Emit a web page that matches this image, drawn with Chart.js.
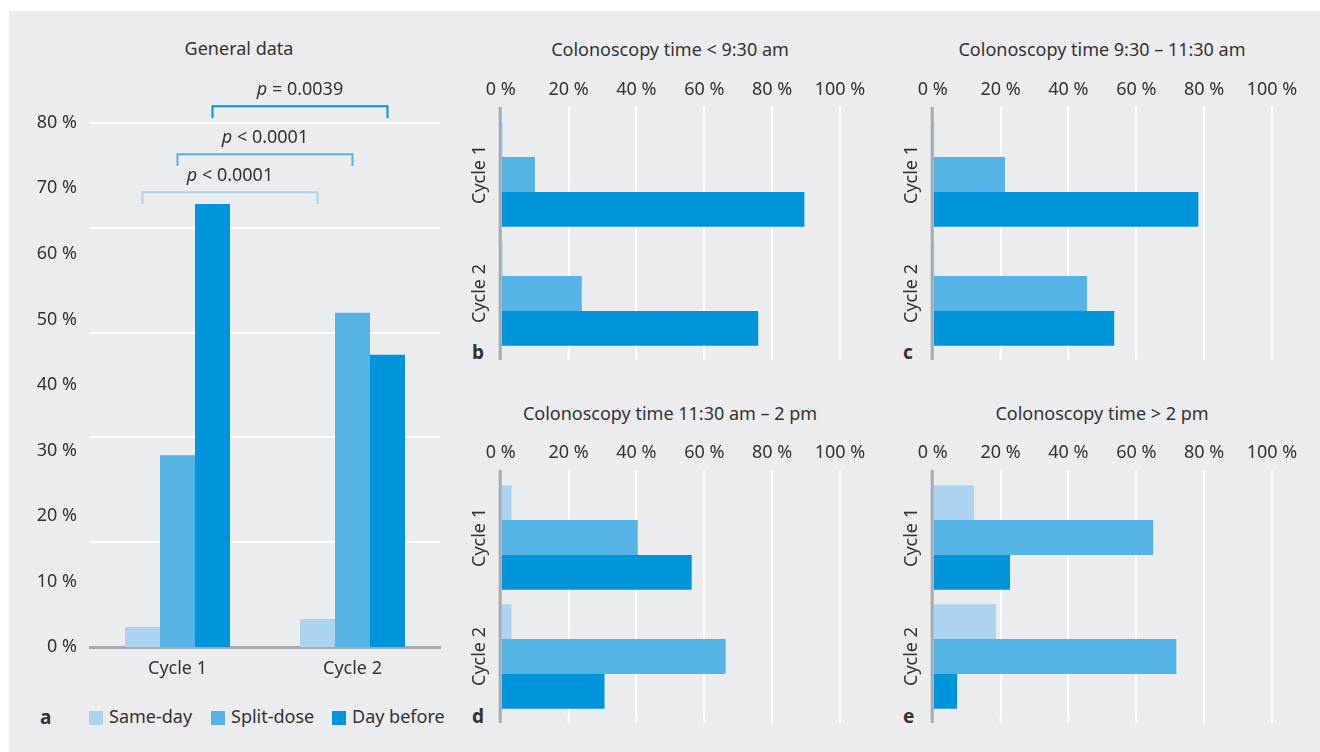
<!DOCTYPE html>
<html>
<head>
<meta charset="utf-8">
<script src="https://cdn.jsdelivr.net/npm/chart.js@4.4.1/dist/chart.umd.min.js"></script>
<style>
  body { margin: 0; background: #fff; }
  #page { position: relative; width: 1320px; height: 752px; overflow: hidden; font-family: "Noto Sans", sans-serif; color: #333; }
  #panel { position: absolute; left: 9px; top: 11px; right: 0; bottom: 0; background: #ebeced; }
  .box { position: absolute; }
  .title { position: absolute; font-size: 18px; white-space: nowrap; transform: translate(-50%, -50%); }
  .letter { position: absolute; font-size: 19px; font-weight: bold; transform: translateY(-50%); }
  .leg { position: absolute; top: 716px; transform: translateY(-50%); font-size: 18px; white-space: nowrap; }
  .leg i { display: inline-block; width: 14px; height: 14px; vertical-align: -2px; margin-right: 6px; }
</style>
</head>
<body>
<div id="page">
  <div id="panel"></div>

  <div class="title" style="left:239px; top:48px">General data</div>
  <div class="title" style="left:670px; top:49px">Colonoscopy time &lt; 9:30 am</div>
  <div class="title" style="left:1102px; top:49px">Colonoscopy time 9:30 – 11:30 am</div>
  <div class="title" style="left:670px; top:413px">Colonoscopy time 11:30 am – 2 pm</div>
  <div class="title" style="left:1102px; top:413px">Colonoscopy time &gt; 2 pm</div>

  <div class="letter" style="left:40px; top:717px">a</div>
  <div class="letter" style="left:472px; top:352px">b</div>
  <div class="letter" style="left:903px; top:352px">c</div>
  <div class="letter" style="left:472px; top:716px">d</div>
  <div class="letter" style="left:903px; top:716px">e</div>

  <div id="legend"></div>

  <div class="box" style="left:0; top:60px; width:460px; height:630px"><canvas id="chartA"></canvas></div>
  <div class="box" style="left:460px; top:60px; width:420px; height:315px"><canvas id="chartB"></canvas></div>
  <div class="box" style="left:892px; top:60px; width:420px; height:315px"><canvas id="chartC"></canvas></div>
  <div class="box" style="left:460px; top:423px; width:420px; height:315px"><canvas id="chartD"></canvas></div>
  <div class="box" style="left:892px; top:423px; width:420px; height:315px"><canvas id="chartE"></canvas></div>
</div>

<script>
// values, in percent
const cycles = ["Cycle 1", "Cycle 2"];
const seriesNames = ["Same-day", "Split-dose", "Day before"];
const seriesColors = ["#acd4f1", "#55b3e5", "#0095da"];

// a: general data
const generalSameDay = [3.1, 4.3];
const generalSplitDose = [29.3, 51.0];
const generalDayBefore = [67.6, 44.6];

// b: < 9:30 am
const earlySameDay = [0.6, 0.6];
const earlySplitDose = [10.1, 23.9];
const earlyDayBefore = [89.5, 75.9];

// c: 9:30 - 11:30 am
const morningSameDay = [0.5, 0.5];
const morningSplitDose = [21.3, 45.5];
const morningDayBefore = [78.3, 53.5];

// d: 11:30 am - 2 pm
const noonSameDay = [3.2, 3.2];
const noonSplitDose = [40.4, 66.3];
const noonDayBefore = [56.3, 30.6];

// e: > 2 pm
const lateSameDay = [12.2, 18.7];
const lateSplitDose = [65.0, 71.8];
const lateDayBefore = [22.8, 7.2];

// significance brackets in panel a: same-day, split-dose, day-before
const pValueLabels = [["p", " < 0.0001"], ["p", " < 0.0001"], ["p", " = 0.0039"]];

const FONT = "Noto Sans";
const TEXT = "#333";
const AXIS_GREY = "#a7a9ac";

Chart.defaults.font.family = FONT;
Chart.defaults.font.size = 18;
Chart.defaults.color = TEXT;
Chart.defaults.animation = false;

// legend
const legend = document.getElementById("legend");
[89, 211, 332].forEach((left, i) => {
  const d = document.createElement("div");
  d.className = "leg";
  d.style.left = left + "px";
  d.innerHTML = '<i style="background:' + seriesColors[i] + '"></i>' + seriesNames[i];
  legend.appendChild(d);
});

function makeDatasets(a, b, c) {
  return [a, b, c].map((vals, i) => ({
    label: seriesNames[i],
    data: vals,
    backgroundColor: seriesColors[i],
    borderWidth: 0,
    categoryPercentage: 0.6,
    barPercentage: 1.0
  }));
}

// brackets with p values above the bars of panel a
const pBrackets = {
  id: "pBrackets",
  afterDraw(chart, args, opts) {
    const { ctx } = chart;
    const y = chart.scales.y;
    ctx.save();
    opts.levels.forEach((level, i) => {
      const meta = chart.getDatasetMeta(i);
      const x1 = meta.data[0].x, x2 = meta.data[1].x;
      const top = y.getPixelForValue(level);
      const leg = y.getPixelForValue(level - 1.8);
      ctx.strokeStyle = seriesColors[i];
      ctx.lineWidth = 2;
      ctx.beginPath();
      ctx.moveTo(x1, leg);
      ctx.lineTo(x1, top);
      ctx.lineTo(x2, top);
      ctx.lineTo(x2, leg);
      ctx.stroke();

      const [p, rest] = pValueLabels[i];
      ctx.fillStyle = TEXT;
      ctx.textBaseline = "middle";
      ctx.font = "italic 18px '" + FONT + "'";
      const wp = ctx.measureText(p).width;
      ctx.font = "18px '" + FONT + "'";
      const wr = ctx.measureText(rest).width;
      const start = (x1 + x2) / 2 - (wp + wr) / 2;
      const ty = top - 16;
      ctx.font = "italic 18px '" + FONT + "'";
      ctx.textAlign = "left";
      ctx.fillText(p, start, ty);
      ctx.font = "18px '" + FONT + "'";
      ctx.fillText(rest, start + wp, ty);
    });
    ctx.restore();
  }
};

new Chart(document.getElementById("chartA"), {
  type: "bar",
  data: { labels: cycles, datasets: makeDatasets(generalSameDay, generalSplitDose, generalDayBefore) },
  plugins: [pBrackets],
  options: {
    responsive: true,
    maintainAspectRatio: false,
    layout: { padding: { top: 62.7, right: 20, left: 0, bottom: 0 } },
    plugins: {
      legend: { display: false },
      tooltip: { enabled: false },
      pBrackets: { levels: [69.4, 75.2, 82.5] }
    },
    scales: {
      x: {
        z: 1,
        grid: { display: false, drawTicks: false },
        border: { display: true, color: AXIS_GREY, width: 3 },
        ticks: { padding: 11 },
        afterFit: s => { s.height = 42.7; }
      },
      y: {
        min: 0, max: 80,
        grid: { display: false, drawTicks: false },
        border: { display: false },
        ticks: { stepSize: 10, padding: 13, callback: v => v + " %" },
        afterFit: s => { s.width = 90; }
      },
      grid16: {
        axis: "y",
        position: "right",
        min: 0, max: 80,
        grid: { color: c => c.tick.value === 0 ? "rgba(0,0,0,0)" : "#ffffff", lineWidth: 2, drawTicks: false },
        border: { display: false },
        ticks: { display: false, stepSize: 16 },
        afterFit: s => { s.width = 0; }
      }
    }
  }
});

// horizontal panels: rotated cycle labels, grid running past the plot, zero line on top
const sidePanel = {
  id: "sidePanel",
  beforeDatasetsDraw(chart) {
    const { ctx, chartArea } = chart;
    const x = chart.scales.x;
    ctx.save();
    ctx.strokeStyle = "#ffffff";
    ctx.lineWidth = 2;
    x.ticks.forEach((t, i) => {
      if (t.value === 0) return;
      const px = x.getPixelForTick(i);
      ctx.beginPath();
      ctx.moveTo(px, chartArea.bottom);
      ctx.lineTo(px, chartArea.bottom + 7);
      ctx.stroke();
    });
    ctx.restore();
  },
  afterDatasetsDraw(chart) {
    const { ctx, chartArea } = chart;
    const x = chart.scales.x, y = chart.scales.y;
    ctx.save();
    const x0 = x.getPixelForValue(0) - 0.5;
    ctx.strokeStyle = AXIS_GREY;
    ctx.lineWidth = 3;
    ctx.beginPath();
    ctx.moveTo(x0, chartArea.top - 8);
    ctx.lineTo(x0, chartArea.bottom + 7);
    ctx.stroke();

    ctx.fillStyle = TEXT;
    ctx.font = "18px '" + FONT + "'";
    ctx.textAlign = "center";
    ctx.textBaseline = "middle";
    y.ticks.forEach((t, i) => {
      ctx.save();
      ctx.translate(chartArea.left - 21, y.getPixelForTick(i));
      ctx.rotate(-Math.PI / 2);
      ctx.fillText(y.getLabelForValue(t.value), 0, 0);
      ctx.restore();
    });
    ctx.restore();
  }
};

function horizontalPanel(id, sameDay, splitDose, dayBefore) {
  const datasets = makeDatasets(sameDay, splitDose, dayBefore).map(d => ({ ...d, categoryPercentage: 0.877 }));
  new Chart(document.getElementById(id), {
    type: "bar",
    data: { labels: cycles, datasets: datasets },
    plugins: [sidePanel],
    options: {
      indexAxis: "y",
      responsive: true,
      maintainAspectRatio: false,
      layout: { padding: { top: 0, right: 40, left: 0, bottom: 22 } },
      plugins: { legend: { display: false }, tooltip: { enabled: false } },
      scales: {
        x: {
          position: "top",
          min: 0, max: 100,
          grid: { color: c => c.tick.value === 0 ? "rgba(0,0,0,0)" : "#ffffff", lineWidth: 2, tickLength: 8 },
          border: { display: false },
          ticks: { stepSize: 20, padding: 6, callback: v => v + " %" },
          afterFit: s => { s.height = 55; }
        },
        y: {
          grid: { display: false, drawTicks: false },
          border: { display: false },
          ticks: { display: false },
          afterFit: s => { s.width = 40.7; }
        }
      }
    }
  });
}

horizontalPanel("chartB", earlySameDay, earlySplitDose, earlyDayBefore);
horizontalPanel("chartC", morningSameDay, morningSplitDose, morningDayBefore);
horizontalPanel("chartD", noonSameDay, noonSplitDose, noonDayBefore);
horizontalPanel("chartE", lateSameDay, lateSplitDose, lateDayBefore);
</script>
</body>
</html>
